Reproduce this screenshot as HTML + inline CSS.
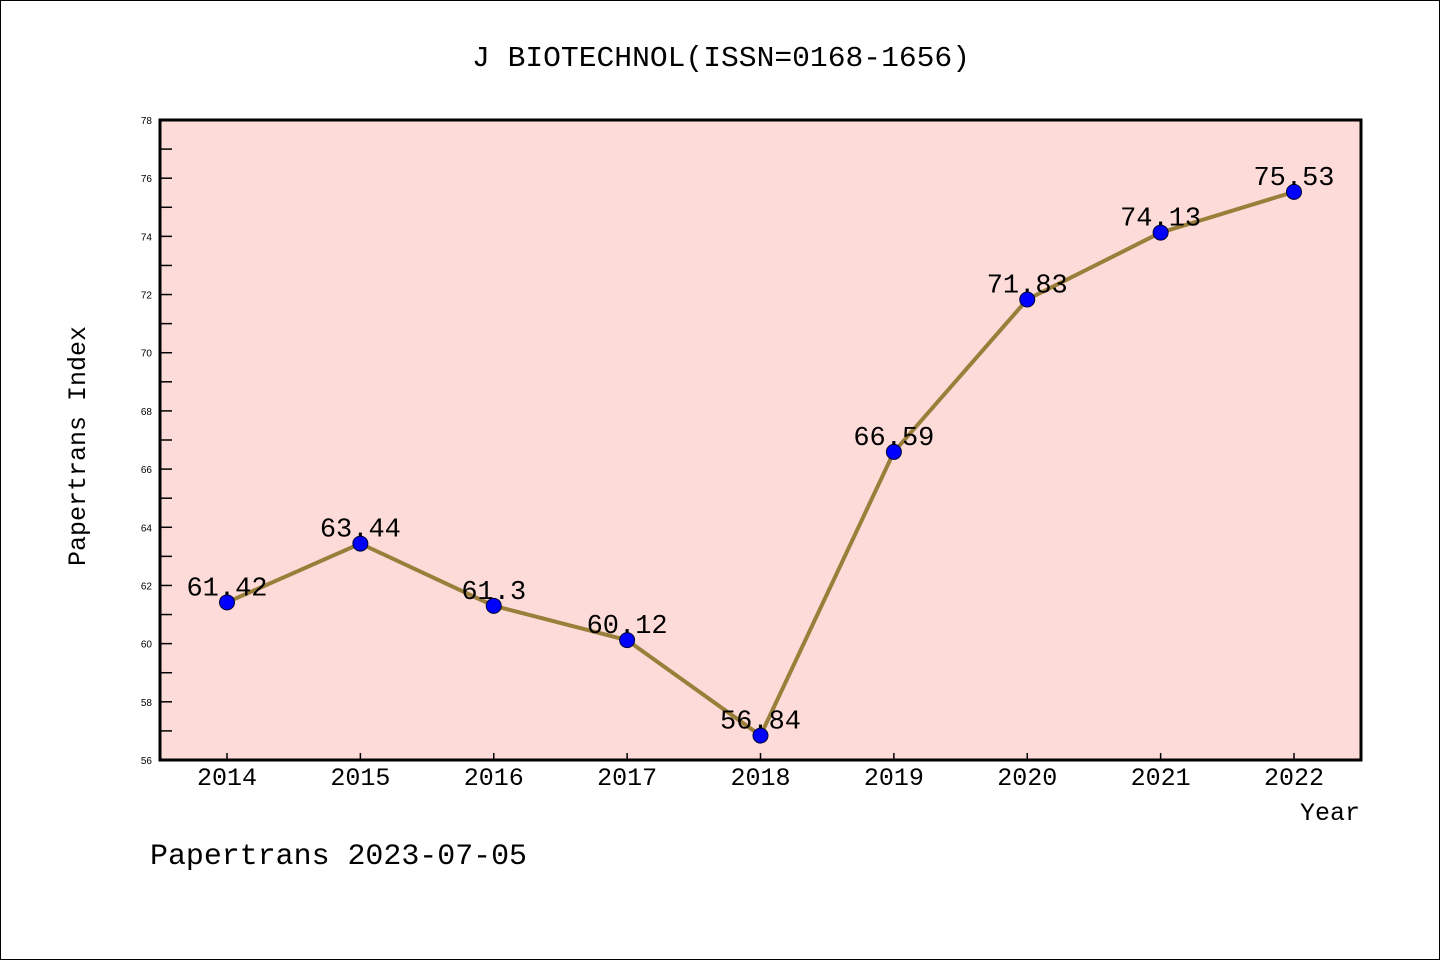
<!DOCTYPE html>
<html><head><meta charset="utf-8"><style>
html,body{margin:0;padding:0;background:#fff}
svg{display:block}
text{font-family:"Liberation Mono",monospace}
</style></head><body>
<svg id="c" width="1440" height="960">
<rect x="0.5" y="0.5" width="1439" height="959" fill="#fff" stroke="#000"/>
<text x="472" y="66" font-size="29" textLength="498" lengthAdjust="spacingAndGlyphs">J BIOTECHNOL(ISSN=0168-1656)</text>
<rect x="160" y="120" width="1201" height="640" fill="#fddbd8"/>
<g id="axes"></g>
<g id="marks"></g>
<rect x="160" y="120" width="1201" height="640" fill="none" stroke="#000" stroke-width="3"/>
<text x="85" y="446" text-anchor="middle" font-size="25" transform="rotate(-90 85 446)">Papertrans Index</text>
<text x="1360" y="820" text-anchor="end" font-size="25">Year</text>
<text x="150" y="864" font-size="30" textLength="377" lengthAdjust="spacingAndGlyphs">Papertrans 2023-07-05</text>
</svg>
<script>
const years=["2014","2015","2016","2017","2018","2019","2020","2021","2022"];
const values=[61.42,63.44,61.3,60.12,56.84,66.59,71.83,74.13,75.53];
const valueLabels=["61.42","63.44","61.3","60.12","56.84","66.59","71.83","74.13","75.53"];
const yTicks=[56,58,60,62,64,66,68,70,72,74,76,78];
const NS="http://www.w3.org/2000/svg";
const yMin=56,yMax=78,plotTop=120,plotBot=760;
function ys(v){return plotBot-(v-yMin)/(yMax-yMin)*(plotBot-plotTop);}
function xs(i){return 227+i*(1294-227)/(years.length-1);}
function mk(t,a,p){const e=document.createElementNS(NS,t);for(const k in a)e.setAttribute(k,a[k]);p.appendChild(e);return e;}
const ax=document.getElementById('axes'),mg=document.getElementById('marks');
yTicks.forEach(v=>{
 const y=ys(v);
 const l=mk('line',{x1:161,x2:172,y1:y,y2:y,stroke:'#000','stroke-width':1.5},ax);
 
 
 const t=mk('text',{x:152,y:y+4,'text-anchor':'end','font-size':10,style:'font-family:"Liberation Sans",sans-serif'},ax);t.textContent=v;
 
 
 if(v<yMax){const y2=ys(v+1);const m=mk('line',{x1:161,x2:172,y1:y2,y2:y2,stroke:'#000','stroke-width':1.5},ax);
 
 }
});
years.forEach((yr,i)=>{
 const x=xs(i);
 const l=mk('line',{x1:x,x2:x,y1:753,y2:760,stroke:'#000','stroke-width':1.5},ax);
 
 
 const t=mk('text',{x:x,y:785,'text-anchor':'middle','font-size':25},ax);t.textContent=yr;
 
 
});
const pl=mk('polyline',{points:values.map((v,i)=>xs(i)+','+ys(v)).join(' '),fill:'none',stroke:'#9a7f3a','stroke-width':4},mg);


values.forEach((v,i)=>{
 const c=mk('circle',{cx:xs(i),cy:ys(v),r:7.5,fill:'#0000ff',stroke:'#000033','stroke-width':1},mg);
 
 
 const t=mk('text',{x:xs(i),y:ys(v)-7,'text-anchor':'middle','font-size':27},mg);t.textContent=valueLabels[i];
 
 
});
</script>
</body></html>
